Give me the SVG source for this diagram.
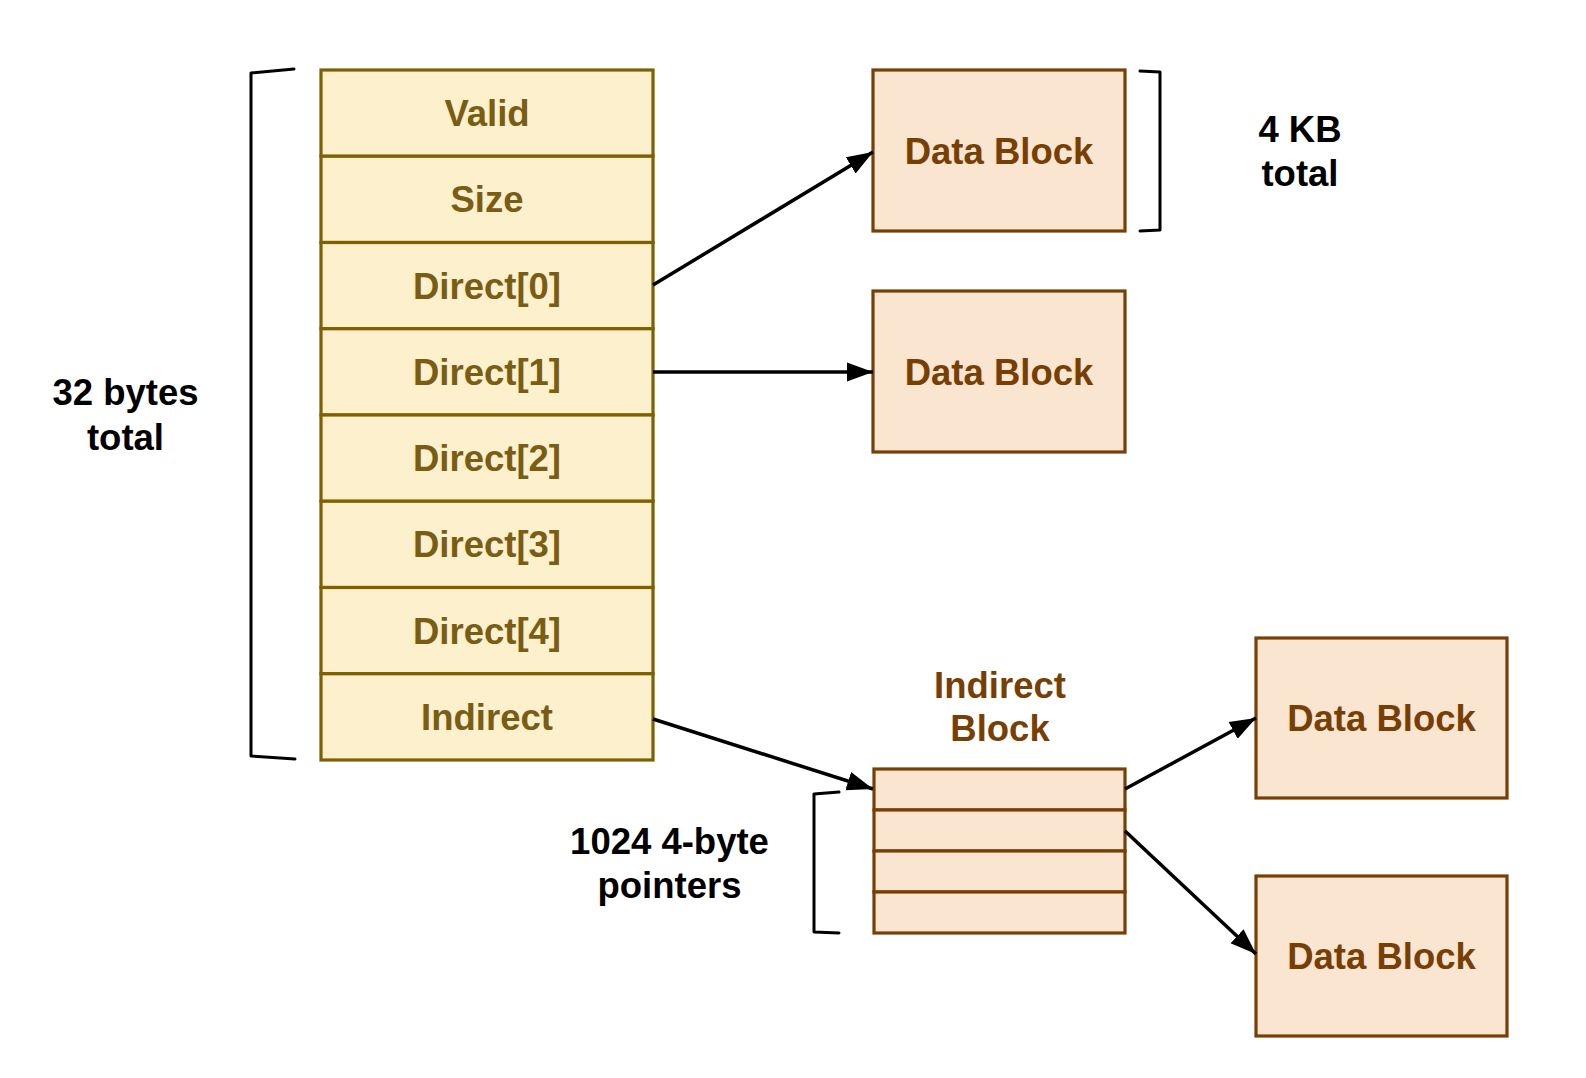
<svg xmlns="http://www.w3.org/2000/svg" width="1586" height="1078" viewBox="0 0 1586 1078">
<style>
.inode{fill:#fdf0cd;stroke:#7f6000;stroke-width:3.2}
.data{fill:#f9e5d0;stroke:#783f04;stroke-width:3.2}
.it{font-family:"Liberation Sans",Arial,sans-serif;font-weight:bold;font-size:36.5px;fill:#7a5d14;text-anchor:middle}
.dt{font-family:"Liberation Sans",Arial,sans-serif;font-weight:bold;font-size:36.5px;fill:#783f04;text-anchor:middle}
.lt{font-family:"Liberation Sans",Arial,sans-serif;font-weight:bold;font-size:36.5px;fill:#000;text-anchor:middle}
.br{fill:none;stroke:#000;stroke-width:3;stroke-linejoin:round;stroke-linecap:round}
.cn{fill:none;stroke:#000;stroke-width:3.5}
</style>
<defs>
<marker id="ah" markerUnits="userSpaceOnUse" markerWidth="27" markerHeight="22" viewBox="0 0 27 22" refX="26" refY="11" orient="auto">
<path d="M0,1.5 L26,11 L0,20.5 Z" fill="#000"/>
</marker>
</defs>
<rect width="1586" height="1078" fill="#fff"/>
<g id="inode">
<rect class="inode" x="321" y="70" width="332" height="86.25"/>
<rect class="inode" x="321" y="156.25" width="332" height="86.25"/>
<rect class="inode" x="321" y="242.5" width="332" height="86.25"/>
<rect class="inode" x="321" y="328.75" width="332" height="86.25"/>
<rect class="inode" x="321" y="415" width="332" height="86.25"/>
<rect class="inode" x="321" y="501.25" width="332" height="86.25"/>
<rect class="inode" x="321" y="587.5" width="332" height="86.25"/>
<rect class="inode" x="321" y="673.75" width="332" height="86.25"/>
<text class="it" x="487" y="126">Valid</text>
<text class="it" x="487" y="212">Size</text>
<text class="it" x="487" y="299">Direct[0]</text>
<text class="it" x="487" y="385">Direct[1]</text>
<text class="it" x="487" y="471">Direct[2]</text>
<text class="it" x="487" y="557">Direct[3]</text>
<text class="it" x="487" y="644">Direct[4]</text>
<text class="it" x="487" y="730">Indirect</text>
</g>
<g id="inode-size">
<path class="br" d="M294,69 L251,73 L251,756 L295,759"/>
<text class="lt" x="125.5" y="405">32 bytes</text>
<text class="lt" x="125.5" y="450">total</text>
</g>
<g id="data0">
<rect class="data" x="873" y="70" width="252" height="161"/>
<text class="dt" x="999" y="164">Data Block</text>
</g>
<g id="block-size">
<path class="br" d="M1140,71 L1160,72 L1160,230 L1140,231"/>
<text class="lt" x="1300" y="142">4 KB</text>
<text class="lt" x="1300" y="186">total</text>
</g>
<g id="data1">
<rect class="data" x="873" y="291" width="252" height="161"/>
<text class="dt" x="999" y="385">Data Block</text>
</g>
<g id="indirect-block">
<text class="dt" x="1000" y="698">Indirect</text>
<text class="dt" x="1000" y="741">Block</text>
<rect class="data" x="874" y="769" width="251" height="41"/>
<rect class="data" x="874" y="810" width="251" height="41"/>
<rect class="data" x="874" y="851" width="251" height="41"/>
<rect class="data" x="874" y="892" width="251" height="41"/>
</g>
<g id="pointer-count">
<path class="br" d="M839,792 L814,794 L814,932 L839,933"/>
<text class="lt" x="669.5" y="854">1024 4-byte</text>
<text class="lt" x="669.5" y="898">pointers</text>
</g>
<g id="data2">
<rect class="data" x="1256" y="638" width="251" height="160"/>
<text class="dt" x="1381.5" y="731">Data Block</text>
</g>
<g id="data3">
<rect class="data" x="1256" y="876" width="251" height="160"/>
<text class="dt" x="1381.5" y="969">Data Block</text>
</g>
<g id="connectors">
<line class="cn" x1="653" y1="285" x2="873" y2="152" marker-end="url(#ah)"/>
<line class="cn" x1="653" y1="372" x2="873" y2="372" marker-end="url(#ah)"/>
<line class="cn" x1="653" y1="719" x2="873" y2="789" marker-end="url(#ah)"/>
<line class="cn" x1="1125" y1="789" x2="1256" y2="718" marker-end="url(#ah)"/>
<line class="cn" x1="1125" y1="831" x2="1256" y2="954" marker-end="url(#ah)"/>
</g>
</svg>
